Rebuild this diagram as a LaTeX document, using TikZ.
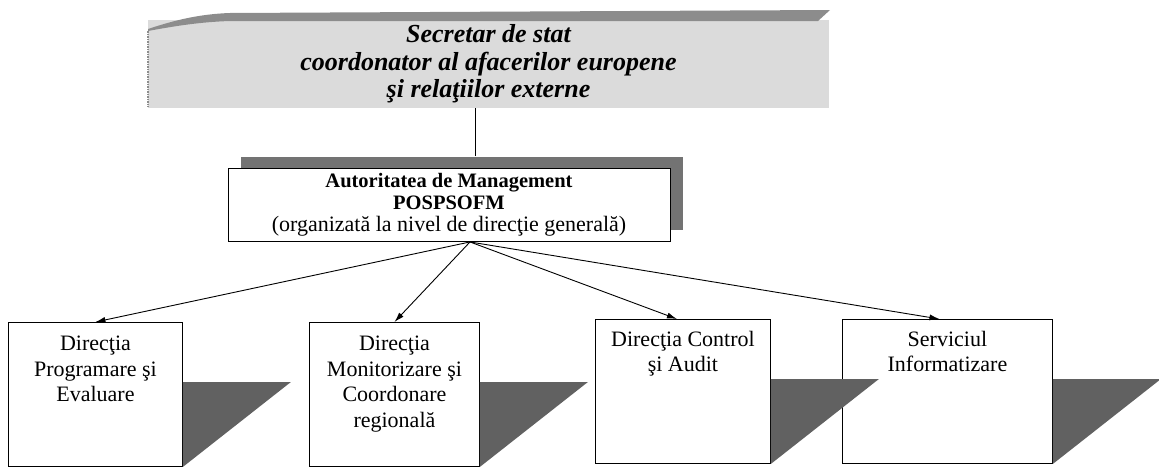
\documentclass[tikz,border=0pt]{standalone}
\usepackage{fontspec}
\setmainfont{Liberation Serif}
\usetikzlibrary{positioning,arrows.meta,shadows}

\tikzset{
  topbox/.style={fill=black!14, inner sep=0pt, minimum width=681pt, minimum height=88pt,
    align=center, font=\fontsize{26}{27.5}\selectfont\bfseries\itshape},
  midbox/.style={draw, line width=0.9pt, fill=white, minimum width=442pt, minimum height=73pt,
    align=center, inner sep=0pt, font=\fontsize{22}{22}\selectfont,
    drop shadow={shadow xshift=13pt, shadow yshift=12pt, fill=black!55, opacity=1}},
  unitbox/.style={draw, line width=0.9pt, fill=white, anchor=north west, minimum height=144pt, inner sep=0pt},
  unittext/.style={align=center, inner sep=0pt, anchor=north, font=\fontsize{22}{25.5}\selectfont},
  wedge/.style={fill=black!62},
  link/.style={-{Latex[length=10pt,width=6pt]}, line width=0.9pt}
}

\begin{document}
\begin{tikzpicture}[x=1pt,y=-1pt]
    \useasboundingbox (0,0) rectangle (1159,466);

    % Secretar de stat
    \node[topbox] (secretar) at (488.5,64) {Secretar de stat\\coordonator al afacerilor europene\\şi relaţiilor externe};
    \fill[black!45] (148,29) .. controls (175,20) and (200,14) .. (230,13) -- (830,10) -- (818,21) -- (230,21) .. controls (200,22) and (175,26) .. (148,31) -- cycle;
    \draw[black!45, densely dotted, line width=1.5pt] (148,31) -- (148,107);

    % Autoritatea de Management
    \node[midbox] (autoritate) at (449,205) {{\fontsize{20.5}{22}\selectfont\bfseries Autoritatea de Management}\\{\fontsize{20.5}{22}\selectfont\bfseries POSPSOFM}\\(organizată la nivel de direcţie generală)};
    \draw[line width=0.9pt] ([xshift=26pt,yshift=12pt]autoritate.north) -- ([xshift=26pt]autoritate.north |- secretar.south);

    % Directii si serviciu
    \node[unitbox, minimum width=174pt] (dirprog) at (8,322) {};
    \node[unitbox, minimum width=170pt] (dirmon) at (309,322) {};
    \node[unitbox, minimum width=175pt] (dirctrl) at (595,319) {};
    \node[unitbox, minimum width=210pt] (servinfo) at (842,319) {};

    \node[unittext, below=14pt of dirprog.north] (tprog) {Direcţia\\Programare şi\\Evaluare};
    \node[unittext, below=14pt of dirmon.north] (tmon) {Direcţia\\Monitorizare şi\\Coordonare\\regională};
    \node[unittext, below=12pt of dirctrl.north] (tctrl) {Direcţia Control\\şi Audit};
    \node[unittext, below=12pt of servinfo.north] (tinfo) {Serviciul\\Informatizare};

    % wedges
    \foreach \u in {dirprog,dirmon,dirctrl,servinfo}
      \fill[wedge] ([yshift=-60pt]\u.north east) -- ++(108,0) -- (\u.south east) -- cycle;

    % Arrows
    \coordinate (fork) at ([xshift=21pt]autoritate.south);
    \draw[link] (fork) -- (dirprog.north);
    \draw[link] (fork) -- (dirmon.north);
    \draw[link] (fork) -- ([xshift=-6pt]dirctrl.north);
    \draw[link] (fork) -- ([xshift=-8pt]servinfo.north);
\end{tikzpicture}
\end{document}
